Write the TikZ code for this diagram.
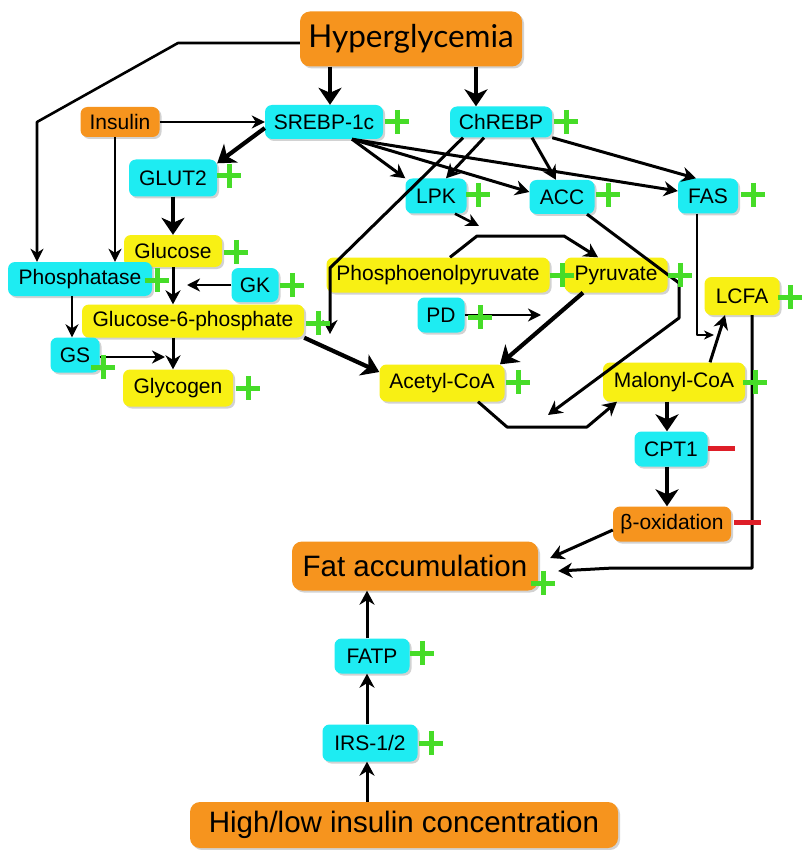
\documentclass[tikz,border=0pt]{standalone}
\usepackage{fontspec}
\setmainfont{Liberation Sans}
\newfontfamily\hfont{Lato}
\usetikzlibrary{arrows.meta,shadows}
\definecolor{cOr}{RGB}{246,148,30}
\definecolor{cCy}{RGB}{30,236,242}
\definecolor{cYe}{RGB}{248,240,20}
\definecolor{cGr}{RGB}{70,220,40}
\definecolor{cRd}{RGB}{222,30,40}
\newcommand\plusmk[3]{\node[plusnode] (#1) at (#2,#3) {};
  \draw[pluspen] (#1.north) -- (#1.south) (#1.west) -- (#1.east);}
\begin{document}
\begin{tikzpicture}[x=1pt,y=-1pt,
  box/.style={rounded corners=7pt, inner sep=0pt, font=\fontsize{21}{24}\selectfont,
    drop shadow={shadow xshift=2pt, shadow yshift=-2pt, fill=black!35}},
  cy/.style={box, fill=cCy},
  ye/.style={box, fill=cYe},
  orn/.style={box, fill=cOr},
  big/.style={rounded corners=10pt, font=\fontsize{29.5}{33}\selectfont},
  plusnode/.style={inner sep=0pt, minimum size=24pt},
  pluspen/.style={draw=cGr, line width=5pt},
  minusnode/.style={inner sep=0pt, minimum width=27pt, minimum height=5pt, fill=cRd},
  thk/.style={line width=4.2pt, line join=round, -{Stealth[length=17pt,width=23pt,inset=5pt]}},
  med/.style={line width=3pt, line join=round, -{Stealth[length=14pt,width=15pt,inset=4.5pt]}},
  thn/.style={line width=2.6pt, line join=round, -{Stealth[length=13pt,width=13pt,inset=4pt]}},
  tny/.style={line width=2.2pt, line join=round, -{Stealth[length=10pt,width=9pt,inset=3pt]}}]
\useasboundingbox (0,0) rectangle (801,850);
\fill[white] (0,0) rectangle (801,850);

% nodes
\node[orn, big, minimum width=222pt, minimum height=55pt, font=\hfont\fontsize{31.5}{35}\selectfont] (hyper) at (411,39) {Hyperglycemia};
\node[orn, minimum width=79pt, minimum height=30pt] (insulin) at (120,122) {Insulin};
\node[cy, minimum width=118pt, minimum height=34pt] (srebp) at (324,122) {SREBP-1c};
\node[cy, minimum width=102pt, minimum height=31pt] (chrebp) at (501,122) {ChREBP};
\node[cy, minimum width=88pt, minimum height=37pt] (glut2) at (173,178) {GLUT2};
\node[cy, minimum width=61pt, minimum height=35pt] (lpk) at (436,196) {LPK};
\node[cy, minimum width=65pt, minimum height=34pt] (acc) at (562,197) {ACC};
\node[cy, minimum width=60pt, minimum height=35pt] (fas) at (708,196) {FAS};
\node[ye, minimum width=98pt, minimum height=32pt] (glucose) at (173,251) {Glucose};
\node[cy, minimum width=144pt, minimum height=34pt] (phosph) at (80,279) {Phosphatase};
\node[cy, minimum width=47pt, minimum height=34pt] (gk) at (255,285) {GK};
\node[ye, minimum width=222pt, minimum height=33pt] (g6p) at (193,321) {Glucose-6-phosphate};
\node[cy, minimum width=49pt, minimum height=35pt] (gs) at (75,355) {GS};
\node[ye, minimum width=110pt, minimum height=37pt] (glycogen) at (178,388) {Glycogen};
\node[ye, minimum width=223pt, minimum height=35pt] (pep) at (438,275) {Phosphoenolpyruvate};
\node[ye, minimum width=103pt, minimum height=35pt] (pyr) at (616,275) {Pyruvate};
\node[cy, minimum width=47pt, minimum height=35pt] (pd) at (441,315) {PD};
\node[ye, minimum width=125pt, minimum height=37pt] (acoa) at (442,383) {Acetyl-CoA};
\node[ye, minimum width=142pt, minimum height=39pt] (mcoa) at (674,382) {Malonyl-CoA};
\node[ye, minimum width=75pt, minimum height=38pt] (lcfa) at (742,296) {LCFA};
\node[cy, minimum width=73pt, minimum height=35pt] (cpt1) at (671,449) {CPT1};
\node[orn, minimum width=118pt, minimum height=35pt] (boxid) at (672,524) {β-oxidation};
\node[orn, big, minimum width=246pt, minimum height=49pt] (fat) at (415,566) {Fat accumulation};
\node[cy, minimum width=75pt, minimum height=35pt] (fatp) at (372,656) {FATP};
\node[cy, minimum width=95pt, minimum height=37pt] (irs) at (370,743) {IRS-1/2};
\node[orn, big, minimum width=428pt, minimum height=46pt] (high) at (404,825) {High/low insulin concentration};

% connectors
\coordinate (a1) at ([xshift=6pt]srebp.north);
\draw[thk] (a1 |- hyper.south) -- (a1);
\coordinate (a2) at ([xshift=-25pt]chrebp.north);
\draw[thk] (a2 |- hyper.south) -- (a2);
\coordinate (h1) at (178,43);
\coordinate (h2) at (37,122);
\draw[thn] ([yshift=-4pt]hyper.west) -- (h1) -- (h2) -- ([xshift=-43pt]phosph.north);
\draw[thn] (insulin.east) -- (srebp.west);
\coordinate (a3) at ([xshift=-5pt]insulin.south);
\draw[thn] (a3) -- (a3 |- phosph.north);
\draw[thk] ([yshift=-6pt]srebp.west) -- ([yshift=-4pt]glut2.north east);
\draw[thk] (glut2.south) -- (glucose.north);
\draw[med] (glucose.south) -- (glucose.south |- g6p.north);
\coordinate (gkt) at (187,285);
\draw[thn] (gk.west) -- (gkt);
\coordinate (a4) at ([xshift=-8pt]phosph.south);
\draw[thn] (a4) -- (a4 |- gs.north);
\draw[med] (glucose.south |- g6p.south) -- (glucose.south |- glycogen.north);
\coordinate (gst) at (165,357);
\draw[thn] (gs.east |- gst) -- (gst);
\draw[thk] (g6p.south east) -- ([yshift=11pt]acoa.west);

\coordinate (sr) at ([xshift=28pt]srebp.south);
\draw[med] (sr) -- (lpk.north west);
\draw[med] (sr) -- ([yshift=5pt]acc.west);
\draw[med] (sr) -- ([yshift=5pt]fas.west);
\draw[med] ([xshift=-17pt]chrebp.south) -- ([xshift=10pt]lpk.north);
\draw[med] ([xshift=31pt]chrebp.south) -- ([xshift=-6pt]acc.north);
\draw[med] (chrebp.south east) -- ([xshift=-12pt]fas.north);
\coordinate (cg) at (330,268);
\coordinate (cgt) at (330,334);
\draw[med] ([xshift=-38pt]chrebp.south) -- (cg) -- (cgt);

\coordinate (lpt) at (479,226);
\draw[thn] ([xshift=19pt]lpk.south) -- (lpt);
\coordinate (p1) at (477,236);
\coordinate (p2) at (564,236);
\draw[med] ([xshift=12pt]pep.north) -- (p1) -- (p2) -- ([xshift=-18pt]pyr.north);
\draw[thk] ([xshift=-33pt]pyr.south) -- ([xshift=58pt]acoa.north);
\coordinate (pdt) at (541,315);
\draw[thn] (pd.east) -- (pdt);
\coordinate (c1) at (679,283);
\coordinate (c2) at (679,318);
\coordinate (c3) at (548,415);
\draw[med] ([xshift=25pt]acc.south) -- (c1) -- (c2) -- (c3);
\coordinate (m1) at (507,427);
\coordinate (m2) at (587,427);
\draw[med] ([xshift=36pt]acoa.south) -- (m1) -- (m2) -- ([xshift=-57pt]mcoa.south);
\coordinate (f1) at (697,335);
\coordinate (f2) at (714,335);
\draw[tny] ([xshift=-11pt]fas.south) -- (f1) -- (f2);
\draw[med] ([xshift=36pt]mcoa.north) -- ([xshift=-17pt]lcfa.south);
\draw[thk] ([xshift=-7pt]mcoa.south) -- ([xshift=-4pt]cpt1.north);
\draw[thk] ([xshift=-4pt]cpt1.south) -- ([xshift=-5pt]boxid.north);
\draw[med] ([yshift=-6pt]boxid.west) -- ([shift={(12pt,8pt)}]fat.east);
\coordinate (l1) at (752,568);
\coordinate (l2) at (613,568);
\draw[med] ([xshift=10pt]lcfa.south) -- (l1) -- (l2) -- ([shift={(20pt,-5pt)}]fat.east);
\coordinate (q1) at ([xshift=-5pt]fatp.north);
\draw[med] (q1) -- (q1 |- fat.south);
\coordinate (q2) at ([xshift=-3pt]irs.north);
\draw[med] (q2) -- (q2 |- fatp.south);
\coordinate (q3) at ([xshift=-3pt]irs.south);
\draw[med] (q3 |- high.north) -- (q3);

% plus and minus marks
\plusmk{psrebp}{397}{122}
\plusmk{pchrebp}{566}{122}
\plusmk{pglut}{229}{176}
\plusmk{plpk}{478}{195}
\plusmk{pacc}{608}{195}
\plusmk{pfas}{753}{195}
\plusmk{pglc}{236}{252}
\plusmk{pphos}{157}{280}
\plusmk{pgk}{292}{285}
\plusmk{pg6p}{318}{323}
\plusmk{pgs}{103}{367}
\plusmk{pglyc}{248}{388}
\plusmk{ppep}{562}{275}
\plusmk{ppyr}{680}{275}
\plusmk{ppd}{480}{317}
\plusmk{pacoa}{518}{382}
\plusmk{pmcoa}{755}{382}
\plusmk{plcfa}{790}{297}
\plusmk{pfat}{543}{583}
\plusmk{pfatp}{422}{653}
\plusmk{pirs}{431}{743}
\node[minusnode] (mcpt) at (721,448) {};
\node[minusnode] (mbox) at (747,522) {};
\end{tikzpicture}
\end{document}
